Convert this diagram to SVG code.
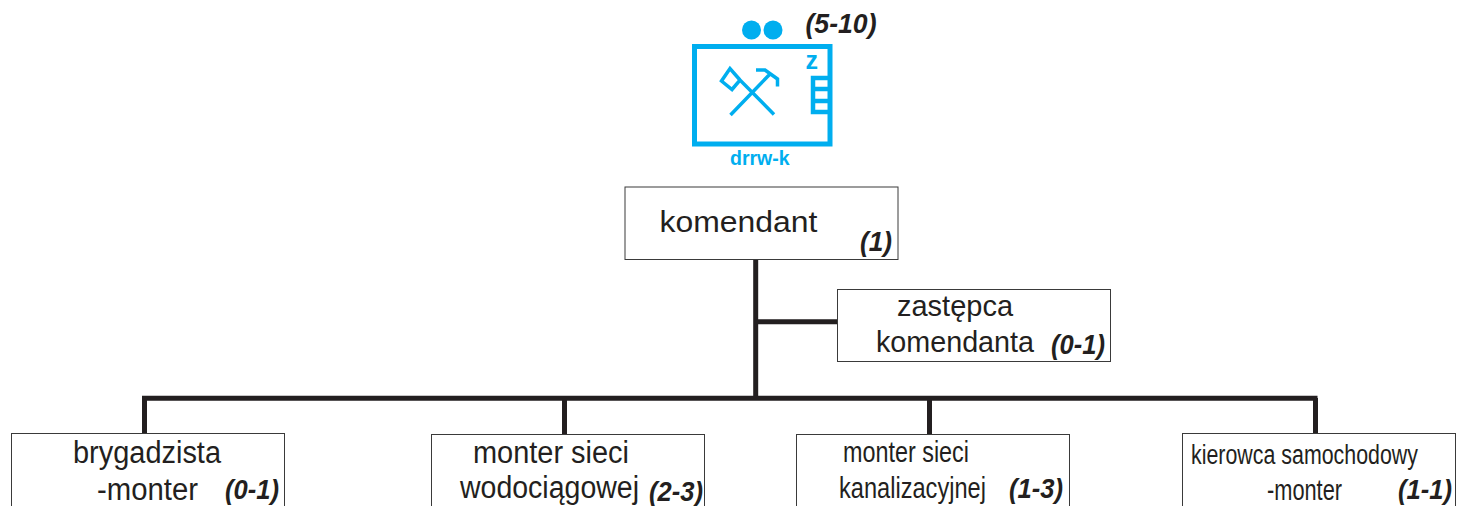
<svg xmlns="http://www.w3.org/2000/svg" width="1460" height="506" viewBox="0 0 1460 506">
<style>
.box{fill:#fff;stroke:#3a3a3a;stroke-width:1}
.t{font-family:"Liberation Sans",Arial,sans-serif;fill:#231f20;font-size:29px}
.b{font-size:31px}
.n{font-size:29px}
.c{font-family:"Liberation Sans",Arial,sans-serif;fill:#231f20;font-size:27px;font-weight:bold;font-style:italic}
.conn{fill:none;stroke:#231f20;stroke-width:5}
.ic{fill:none;stroke:#00aeef}
.it{font-family:"Liberation Sans",Arial,sans-serif;fill:#00aeef;font-weight:bold}
</style>
<rect width="1460" height="506" fill="#fff"/>
<g id="connectors">
<path class="conn" d="M755.700 260V398M757 321.700H838"/>
<path class="conn" d="M142 398.300H1317.500M144.500 398V433M564.500 398V434M929.500 398V434M1315.500 398V434"/>
</g>
<g id="icon">
<circle cx="751.500" cy="30" r="9.500" fill="#00aeef"/>
<circle cx="773" cy="30" r="9.500" fill="#00aeef"/>
<text class="c" x="805.500" y="33" textLength="71" lengthAdjust="spacingAndGlyphs">(5-10)</text>
<rect class="ic" x="694.500" y="46.500" width="135.500" height="97.500" stroke-width="5"/>
<path class="ic" stroke-width="3.500" d="M730.500 115L771 73M756 70H765L777.500 79V86.500M774 114.500L740 80L732 89.500L721.500 81L730 68.500L740 80"/>
<text class="it" x="805.500" y="68.500" font-size="25">z</text>
<path class="ic" stroke-width="4.500" d="M829 78H813V112H829M813 89H829M813 101H829"/>
<text class="it" x="730" y="165" font-size="19.500">drrw-k</text>
</g>
<g id="komendant">
<rect class="box" x="625" y="187" width="273" height="72.500"/>
<text class="t" x="659.500" y="232" font-size="32" textLength="158" lengthAdjust="spacingAndGlyphs">komendant</text>
<text class="c" x="860" y="251" textLength="32" lengthAdjust="spacingAndGlyphs">(1)</text>
</g>
<g id="zastepca">
<rect class="box" x="837.500" y="289.500" width="273" height="72"/>
<text class="t" x="897" y="316" textLength="116" lengthAdjust="spacingAndGlyphs">zastępca</text>
<text class="t" x="876" y="352" textLength="158" lengthAdjust="spacingAndGlyphs">komendanta</text>
<text class="c" x="1051" y="354" textLength="54" lengthAdjust="spacingAndGlyphs">(0-1)</text>
</g>
<g id="brygadzista">
<rect class="box" x="11.500" y="433.500" width="273" height="80"/>
<text class="t b" x="73" y="463" textLength="148" lengthAdjust="spacingAndGlyphs">brygadzista</text>
<text class="t b" x="97" y="500" textLength="101" lengthAdjust="spacingAndGlyphs">-monter</text>
<text class="c" x="225" y="499" textLength="54" lengthAdjust="spacingAndGlyphs">(0-1)</text>
</g>
<g id="monter-wod">
<rect class="box" x="431.500" y="434.500" width="273" height="80"/>
<text class="t b" x="473" y="463" textLength="156" lengthAdjust="spacingAndGlyphs">monter sieci</text>
<text class="t b" x="460" y="498" textLength="179" lengthAdjust="spacingAndGlyphs">wodociągowej</text>
<text class="c" x="649" y="501" textLength="54" lengthAdjust="spacingAndGlyphs">(2-3)</text>
</g>
<g id="monter-kan">
<rect class="box" x="796.500" y="434.500" width="273" height="80"/>
<text class="t n" x="843" y="462" textLength="126" lengthAdjust="spacingAndGlyphs">monter sieci</text>
<text class="t" transform="translate(839 498) scale(.814 1)" x="0" y="0">kanalizacyjnej</text>
<text class="c" x="1009" y="498" textLength="54" lengthAdjust="spacingAndGlyphs">(1-3)</text>
</g>
<g id="kierowca">
<rect class="box" x="1182.500" y="433.500" width="273" height="80"/>
<text class="t" transform="translate(1191 463.500) scale(.764 1)" x="0" y="0" style="font-size:28px">kierowca samochodowy</text>
<text class="t n" x="1267" y="500" textLength="75" lengthAdjust="spacingAndGlyphs">-monter</text>
<text class="c" x="1398" y="499" textLength="54" lengthAdjust="spacingAndGlyphs">(1-1)</text>
</g>
</svg>
